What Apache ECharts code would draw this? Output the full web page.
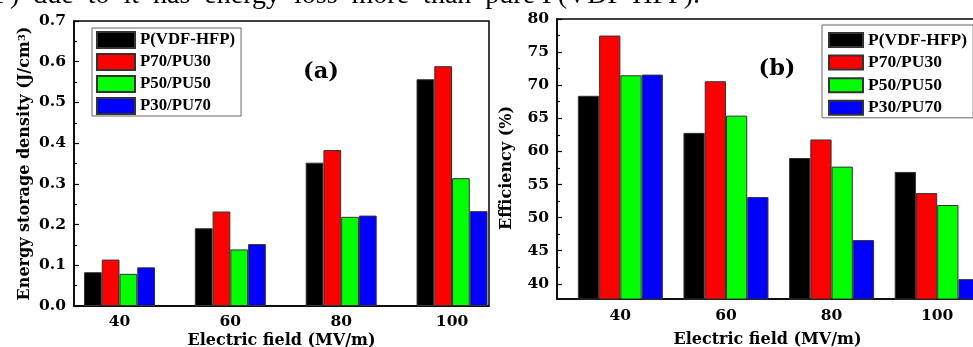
<!DOCTYPE html>
<html>
<head>
<meta charset="utf-8">
<script src="https://cdn.jsdelivr.net/npm/echarts@6/dist/echarts.min.js"></script>
<style>
  html, body { margin: 0; padding: 0; background: #fff; overflow: hidden; }
  #chart { width: 973px; height: 347px; }
</style>
</head>
<body>
<div id="chart"></div>
<script>
// Electric field (MV/m)
const fields = [40, 60, 80, 100]
const names = ['P(VDF-HFP)', 'P70/PU30', 'P50/PU50', 'P30/PU70']
const colors = ['#000000', '#ff0000', '#00ff00', '#0000ff']

// (a) Energy storage density (J/cm3)
const densityPure = [0.083, 0.191, 0.352, 0.557]
const density7030 = [0.114, 0.232, 0.383, 0.589]
const density5050 = [0.079, 0.139, 0.219, 0.314]
const density3070 = [0.095, 0.152, 0.222, 0.233]

// (b) Efficiency (%)
const effPure = [68.4, 62.8, 59.0, 56.9]
const eff7030 = [77.5, 70.6, 61.8, 53.7]
const eff5050 = [71.5, 65.4, 57.7, 51.9]
const eff3070 = [71.6, 53.1, 46.6, 40.7]

const densityTicks = [0, 0.1, 0.2, 0.3, 0.4, 0.5, 0.6, 0.7]
const effTicks = [40, 45, 50, 55, 60, 65, 70, 75, 80]
const effMinorTicks = [42.5, 47.5, 52.5, 57.5, 62.5, 67.5, 72.5, 77.5]

const wide = '"DejaVu Serif"'
const times = '"Liberation Serif"'

const chart = echarts.init(document.getElementById('chart'))

const pairs = (vals) => fields.map((f, i) => [f, vals[i]])

const makeSeries = (list, axis, width) => list.map((vals, i) => ({
    name: names[i],
    type: 'bar',
    xAxisIndex: axis,
    yAxisIndex: axis,
    barWidth: width,
    barGap: '0%',
    itemStyle: { color: colors[i], borderColor: '#333', borderWidth: 1 },
    data: pairs(vals)
}))

const axisFont = { fontFamily: wide, fontWeight: 'bold', fontSize: 15.5, color: '#000' }
const nameFont = { fontFamily: wide, fontWeight: 'bold', fontSize: 16, color: '#000' }
const line = { show: true, lineStyle: { color: '#000', width: 1.5 } }

const legendBase = {
    orient: 'vertical',
    borderColor: '#666',
    borderWidth: 1,
    icon: 'rect',
    itemGap: 4,
    selectedMode: false
}

const options = {
    animation: false,
    grid: [
        { left: 74, top: 21, width: 415, height: 285, show: true, borderColor: '#000', borderWidth: 1.5, outerBoundsMode: 'none', containLabel: false },
        { left: 557, top: 19, width: 433, height: 280, show: true, borderColor: '#000', borderWidth: 1.5, outerBoundsMode: 'none', containLabel: false }
    ],
    legend: [
        {
            ...legendBase,
            data: names,
            left: 92, top: 28,
            padding: [3, 6, 1, 4],
            itemWidth: 38, itemHeight: 16,
            textStyle: { fontFamily: times, fontWeight: 'bold', fontSize: 16.8, color: '#000', lineHeight: 16 }
        },
        {
            ...legendBase,
            data: names,
            left: 822, top: 25,
            padding: [6, 6, 1, 6],
            itemWidth: 34, itemHeight: 14, itemGap: 4.6,
            textStyle: { fontFamily: times, fontWeight: 'bold', fontSize: 17.5, color: '#000', lineHeight: 14 }
        }
    ],
    xAxis: [
        {
            type: 'value', gridIndex: 0, min: 31.79, max: 106.67,
            axisLine: line, axisTick: { show: false }, splitLine: { show: false },
            axisLabel: { ...axisFont, margin: 8, customValues: fields },
            name: 'Electric field (MV/m)', nameLocation: 'middle', nameGap: 27, nameMoveOverlap: false,
            nameTextStyle: nameFont
        },
        {
            type: 'value', gridIndex: 1, min: 28, max: 110,
            axisLine: line, axisTick: { show: false }, splitLine: { show: false },
            axisLabel: { ...axisFont, margin: 9, customValues: fields },
            name: 'Electric field (MV/m)', nameLocation: 'middle', nameGap: 33, nameMoveOverlap: false,
            nameTextStyle: { ...nameFont, padding: [0, 12, 0, 0] }
        }
    ],
    yAxis: [
        {
            type: 'value', gridIndex: 0, min: 0, max: 0.7, interval: 0.1,
            axisLine: line,
            axisTick: { show: true, inside: true, length: 5, lineStyle: { color: '#000', width: 1.2 } },
            minorTick: { show: true, splitNumber: 2, length: 3, lineStyle: { color: '#000', width: 1.2 } },
            splitLine: { show: false },
            axisLabel: { ...axisFont, margin: 8, formatter: v => v.toFixed(1), customValues: densityTicks },
            name: 'Energy storage density (J/cm{sup|3})', nameLocation: 'middle', nameGap: 41, nameMoveOverlap: false,
            nameTextStyle: {
                ...nameFont,
                rich: { sup: { fontFamily: wide, fontWeight: 'bold', fontSize: 10, color: '#000', verticalAlign: 'top' } }
            }
        },
        {
            type: 'value', gridIndex: 1, min: 37.7, max: 80, position: 'left',
            axisLine: line,
            axisTick: { show: true, inside: true, length: 5, customValues: effTicks, lineStyle: { color: '#000', width: 1.2 } },
            splitLine: { show: false },
            axisLabel: { ...axisFont, margin: 8, customValues: effTicks },
            name: 'Efficiency (%)', nameLocation: 'middle', nameGap: 42, nameMoveOverlap: false,
            nameTextStyle: { ...nameFont, padding: [0, 18, 0, 0] }
        },
        {
            // minor ticks only
            type: 'value', gridIndex: 1, min: 37.7, max: 80, position: 'left', offset: 0,
            axisLine: { show: false },
            axisTick: { show: true, inside: true, length: 3, customValues: effMinorTicks, lineStyle: { color: '#000', width: 1.2 } },
            splitLine: { show: false },
            axisLabel: { show: false }
        }
    ],
    graphic: [
        {
            type: 'text', x: 700, y: -4,
            style: { text: 'HFP)  due  to  it  has  energy  loss  more  than  pure P(VDF-HFP).', font: '28px ' + times, fill: '#000', textAlign: 'right', textVerticalAlign: 'middle' }
        },
        {
            type: 'text', x: 321, y: 72.5,
            style: { text: '(a)', font: 'bold 22.5px ' + wide, fill: '#000', textAlign: 'center', textVerticalAlign: 'middle' }
        },
        {
            type: 'text', x: 777, y: 69,
            style: { text: '(b)', font: 'bold 22.5px ' + wide, fill: '#000', textAlign: 'center', textVerticalAlign: 'middle' }
        }
    ],
    series: [
        ...makeSeries([densityPure, density7030, density5050, density3070], 0, 17.75),
        ...makeSeries([effPure, eff7030, eff5050, eff3070], 1, 21.25)
    ]
}

chart.setOption(options)
</script>
</body>
</html>
